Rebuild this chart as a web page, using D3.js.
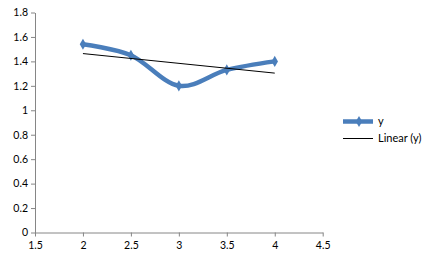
<!DOCTYPE html>
<html>
<head>
<meta charset="utf-8">
<script src="https://cdn.jsdelivr.net/npm/d3@7"></script>
<style>
  body { margin: 0; background: #fff; }
  text { font-family: Lato, "Liberation Sans", sans-serif; font-size: 10.5px; fill: #000; }
</style>
</head>
<body>
<div id="chart"></div>
<script>
// data
var xValues = [2, 2.5, 3, 3.5, 4];
var yValues = [1.54, 1.45, 1.20, 1.33, 1.40];
var xTicks = [1.5, 2, 2.5, 3, 3.5, 4, 4.5];
var yTicks = [0, 0.2, 0.4, 0.6, 0.8, 1, 1.2, 1.4, 1.6, 1.8];
var legendLabels = ["y", "Linear (y)"];

var width = 440, height = 260;
var blue = "#4a7ebb", axisGrey = "#868686";

var svg = d3.select("#chart").append("svg")
    .attr("width", width)
    .attr("height", height);

var x = d3.scaleLinear().domain([1.5, 4.5]).range([35, 322.7]);
var y = d3.scaleLinear().domain([0, 1.8]).range([232.5, 12.5]);

var fmt = function(d){ return String(+d.toFixed(1)); };

var xAxis = svg.append("g")
    .attr("transform", "translate(0," + y(0) + ")")
    .call(d3.axisBottom(x).tickValues(xTicks).tickFormat(fmt).tickSize(4).tickSizeOuter(0));

var yAxis = svg.append("g")
    .attr("transform", "translate(" + x(1.5) + ",0)")
    .call(d3.axisLeft(y).tickValues(yTicks).tickFormat(fmt).tickSize(4).tickSizeOuter(0));

[xAxis, yAxis].forEach(function(a){
    a.select(".domain").attr("stroke", axisGrey);
    a.selectAll(".tick line").attr("stroke", axisGrey);
    a.selectAll(".tick text").attr("fill", "#000").style("font-size", "10.5px");
});
xAxis.selectAll(".tick text").attr("dy", "0.9em");
yAxis.selectAll(".tick text").attr("x", -7);

var data = xValues.map(function(v, i){ return {x: v, y: yValues[i]}; });

// linear trend line (least squares)
var mx = d3.mean(xValues), my = d3.mean(yValues);
var slope = d3.sum(data, function(d){ return (d.x - mx) * (d.y - my); }) /
            d3.sum(data, function(d){ return (d.x - mx) * (d.x - mx); });
var icpt = my - slope * mx;
var x0 = d3.min(xValues), x1 = d3.max(xValues);

// smoothed series
svg.append("path")
    .datum(data)
    .attr("fill", "none")
    .attr("stroke", blue)
    .attr("stroke-width", 4.5)
    .attr("stroke-linejoin", "round")
    .attr("d", d3.line()
        .curve(d3.curveCardinal.tension(0))
        .x(function(d){ return x(d.x); })
        .y(function(d){ return y(d.y); }));

svg.selectAll("marker-pt")
    .data(data)
    .enter()
    .append("path")
    .attr("transform", function(d){ return "translate(" + x(d.x) + "," + y(d.y) + ")"; })
    .attr("d", d3.symbol().type(d3.symbolDiamond).size(36))
    .attr("fill", blue);

svg.append("line")
    .attr("x1", x(x0)).attr("y1", y(icpt + slope * x0))
    .attr("x2", x(x1)).attr("y2", y(icpt + slope * x1))
    .attr("stroke", "#000")
    .attr("stroke-width", 1);

// legend
var legend = svg.append("g");
legend.append("line")
    .attr("x1", 343).attr("x2", 373).attr("y1", 121.5).attr("y2", 121.5)
    .attr("stroke", blue).attr("stroke-width", 4.5);
legend.append("path")
    .attr("transform", "translate(359,121.5)")
    .attr("d", d3.symbol().type(d3.symbolDiamond).size(36))
    .attr("fill", blue);
legend.append("line")
    .attr("x1", 343).attr("x2", 373).attr("y1", 138.5).attr("y2", 138.5)
    .attr("stroke", "#000").attr("stroke-width", 1);
legend.selectAll("legend-label")
    .data(legendLabels)
    .enter()
    .append("text")
    .attr("x", 378)
    .attr("y", function(d, i){ return 121.5 + i * 17; })
    .attr("dy", "0.35em")
    .style("font-size", "11px")
    .text(function(d){ return d; });
</script>
</body>
</html>
